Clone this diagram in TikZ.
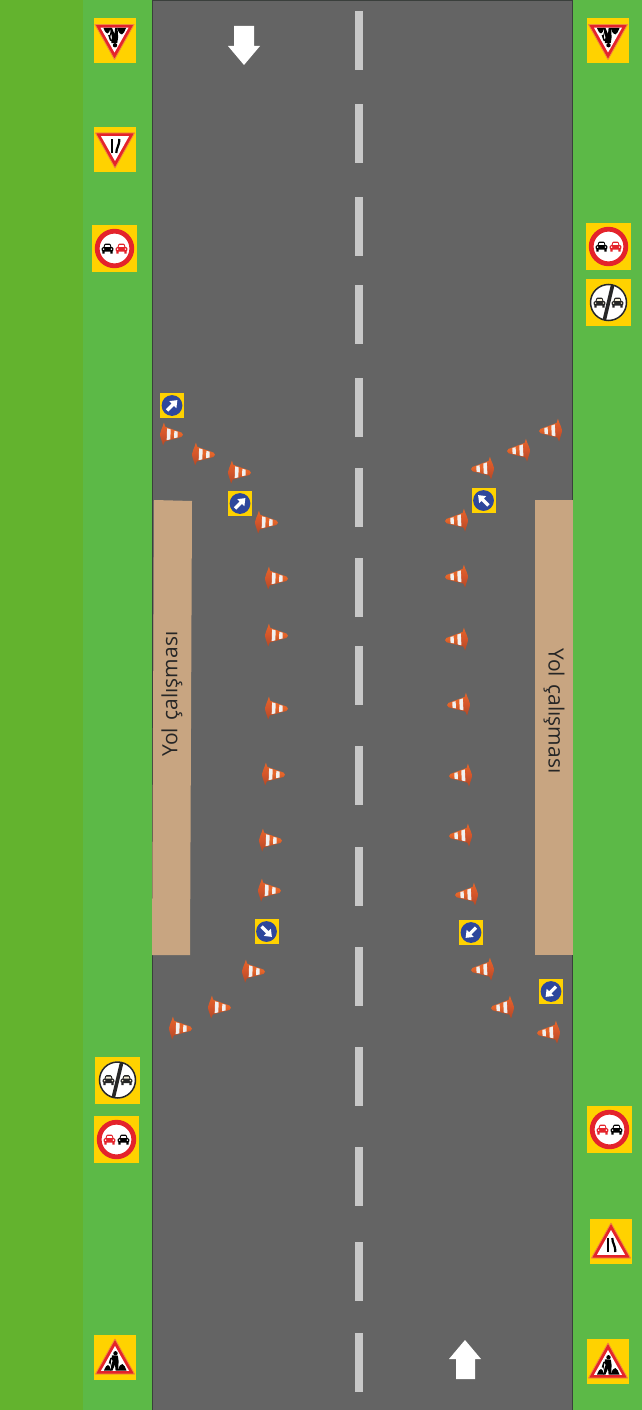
\documentclass[tikz,border=0pt]{standalone}
\usepackage{fontspec}
\setmainfont{Open Sans}
\definecolor{outergreen}{HTML}{63B32E}
\definecolor{verge}{HTML}{5CB947}
\definecolor{road}{HTML}{646464}
\definecolor{edgeline}{HTML}{3A3F3C}
\definecolor{dashc}{HTML}{C8C8C8}
\definecolor{tan}{HTML}{C8A581}
\definecolor{signy}{HTML}{FFD200}
\definecolor{signr}{HTML}{E4232B}
\definecolor{signo}{HTML}{F08A3C}
\definecolor{signb}{HTML}{2E479C}
\definecolor{coneb}{HTML}{B04A28}
\definecolor{conec}{HTML}{E5652A}
\definecolor{coned}{HTML}{D4552A}
\definecolor{carc}{HTML}{F5EFD8}
\tikzset{
  x=1pt,y=-1pt,
  pics/cone/.style={code={
    \shade[top color=conec,bottom color=coneb,middle color=conec] (3,-8) -- (21.5,-2.2) .. controls (23.5,-1.6) and (23.5,1.6) .. (21.5,2.2) -- (3,8) -- cycle;
    \shade[top color=conec,bottom color=coneb,middle color=coned] (3.5,-11.5) .. controls (2,-5) and (0,-3) .. (0,0) .. controls (0,3) and (2,6) .. (3.5,11.5) .. controls (5,6) and (8,3) .. (8,0) .. controls (8,-3) and (5,-6) .. (3.5,-11.5) -- cycle;
    \fill[white!94!black] (6.9,-5.9) -- (10.5,-5.0) -- (10.5,5.0) -- (6.9,5.9) -- cycle;
    \fill[white!94!black] (14.2,-3.6) -- (17.6,-2.9) -- (17.6,2.9) -- (14.2,3.6) -- cycle;
  }},
  pics/carshape/.style n args={2}{code={
    \fill[#1] (-4.2,-0.5) .. controls (-3.6,-3.6) and (-3,-4.8) .. (-2,-4.8) -- (2,-4.8) .. controls (3,-4.8) and (3.6,-3.6) .. (4.2,-0.5) -- cycle;
    \fill[#2] (-3,-0.9) -- (-2.2,-3.4) -- (2.2,-3.4) -- (3,-0.9) -- cycle;
    \fill[#1,rounded corners=1.2pt] (-5.8,-1.4) rectangle (5.8,3);
    \fill[#1] (-5.2,2.5) rectangle (-2.8,5) (2.8,2.5) rectangle (5.2,5);
    \fill[#2] (-3.9,0.6) circle (.8) (3.9,0.6) circle (.8);
  }},
  pics/nopass/.style n args={2}{code={
    \fill[signy] (-22.5,-23.5) rectangle (22.5,23.5);
    \fill[white] (0,0) circle (17);
    \draw[signr,line width=4.8pt] (0,0) circle (17.3);
    \pic at (-7,0) {carshape={#1}{white}};
    \pic at (7,0) {carshape={#2}{white}};
  }},
  pics/endpass/.style={code={
    \fill[signy] (-22.5,-23.5) rectangle (22.5,23.5);
    \fill[white] (0,0) circle (18.5);
    \draw[black!85,line width=1.5pt] (0,0) circle (18);
    \pic at (-9,0) {carshape={black!85}{carc}};
    \pic at (9,0) {carshape={black!85}{carc}};
    \draw[black!85,line width=3.6pt] (4.2,-17.6) -- (-4.2,17.6);
  }},
  pics/triangle/.style={code={
    \fill[signy] (-21,-22.5) rectangle (21,22.5);
    \draw[signo,fill=signr,line width=.8pt,line join=round] (0,-18.5) -- (19.5,16.5) -- (-19.5,16.5) -- cycle;
    \fill[white] (0,-11.5) -- (14,13.3) -- (-14,13.3) -- cycle;
  }},
  pics/narrowicon/.style={code={
    \draw[black,line width=2.2pt] (-2.7,-3.5) -- (-2.7,10.5);
    \draw[black,line width=2.2pt] (1.3,-3.5) .. controls (1.3,2) and (4.3,3) .. (4.3,10.5);
  }},
  pics/workicon/.style={code={
    \fill[black] (-11,13) .. controls (-9.5,9) and (-8,7.5) .. (-7,7.5) .. controls (-6,7.5) and (-4.5,10) .. (-3.8,13) -- cycle;
    \fill[black] (2.8,13) .. controls (4,8) and (6,6.5) .. (7.5,6.5) .. controls (9,7) and (10.5,10) .. (11.5,13) -- cycle;
    \fill[black] (0.5,-4.2) circle (2.2);
    \fill[black] (-3.2,-2.2) -- (2.8,-1.8) -- (3.6,3.5) -- (3.4,8) -- (3,13) -- (0.6,13) -- (0,7) -- (-2.5,13) -- (-4.6,13) -- (-2.6,4) -- cycle;
    \draw[black,line width=1.5pt] (2,-1) -- (-4,1) -- (-5.6,6);
    \draw[black,line width=.9pt] (-5,3) -- (-2.8,12);
  }},
  pics/bluesign/.style={code={
    \fill[signy] (-12,-12.5) rectangle (12,12.5);
    \fill[signb] (0,0) circle (10.4);
    \begin{scope}[rotate=#1]
      \fill[white] (0,-7.6) -- (5,-1.2) -- (1.6,-1.2) -- (1.6,7) -- (-1.6,7) -- (-1.6,-1.2) -- (-5,-1.2) -- cycle;
    \end{scope}
  }},
  roadtext/.style={font=\fontsize{21}{24}\selectfont,text=black!85,inner sep=0pt},
  dashfill/.style={fill=dashc},
}
\begin{document}
\begin{tikzpicture}
\useasboundingbox (0,0) rectangle (642,1410);
% ground
\fill[outergreen] (0,0) rectangle (642,1410);
\fill[verge] (83,0) rectangle (642,1410);
\fill[road] (152,0) rectangle (573,1410);
\draw[edgeline,line width=1pt] (152.5,0) -- (152.5,1410) (572.5,0) -- (572.5,1410);
\draw[edgeline,line width=1pt] (152,0.3) -- (573,0.3);
% centre dashes
\foreach \y in {11,104,197,285,378,468,558,646,746,847,947,1047,1147,1242,1333}
  \fill[dashfill] (355,\y) rectangle (363,\y+59);
% arrows
\fill[white] (234,26) -- (254,26) -- (254,46) -- (260,46) -- (244,65) -- (228,46) -- (234,46) -- cycle;
\fill[white] (465,1340) -- (481,1359) -- (475,1359) -- (475,1379) -- (456,1379) -- (456,1359) -- (449,1359) -- cycle;
% work zones
\fill[tan] (154,500) -- (192,501) -- (190,955) -- (152,955) -- cycle;
\fill[tan] (535,500) rectangle (573,955);
\node[roadtext,rotate=90] (workleft) at (172,694) {Yol\hspace{.35em}çalışması};
\node[roadtext,rotate=-90] (workright) at (554,711) {Yol\hspace{.35em}çalışması};
% cones, left side
\foreach \x/\y in {160/434,192/454,228/472,255/522,265/578,265/635,265/708,262/774,259/840,258/890,242/971,208/1007,169/1028}
  \pic[rotate=-2] at (\x,\y) {cone};
% cones, right side
\foreach \x/\y in {562/430,530/450,494/468,468/520,468/576,468/639,470/704,472/775,472/835,478/894,494/969,514/1007,560/1032}
  \pic[xscale=-1,rotate=-3] at (\x,\y) {cone};
% blue keep signs
\pic at (172,405.5) {bluesign=-45};
\pic at (240,503.5) {bluesign=-45};
\pic at (483.5,500.5) {bluesign=45};
\pic at (266.5,931.5) {bluesign=-135};
\pic at (471,932.5) {bluesign=135};
\pic at (551,991.5) {bluesign=135};
% left verge signs
\pic[yscale=-1] at (114.5,41) {triangle};
\pic[yscale=-1] at (114.5,41) {workicon};
\pic[yscale=-1] at (115,149.5) {triangle};
\pic[yscale=-1] at (115,149.5) {narrowicon};
\pic at (114.5,248.5) {nopass={black}{signr}};
\pic at (117.5,1080) {endpass};
\pic at (116.5,1139.5) {nopass={signr}{black}};
\pic at (115,1357.5) {triangle};
\pic at (115,1357.5) {workicon};
% right verge signs
\pic[yscale=-1] at (608,41) {triangle};
\pic[yscale=-1] at (608,41) {workicon};
\pic at (608.5,246.5) {nopass={black}{signr}};
\pic at (608.5,302.5) {endpass};
\pic at (609.5,1129.5) {nopass={signr}{black}};
\pic at (611,1241.5) {triangle};
\pic at (611,1241.5) {narrowicon};
\pic at (608,1361.5) {triangle};
\pic at (608,1361.5) {workicon};
\end{tikzpicture}
\end{document}
